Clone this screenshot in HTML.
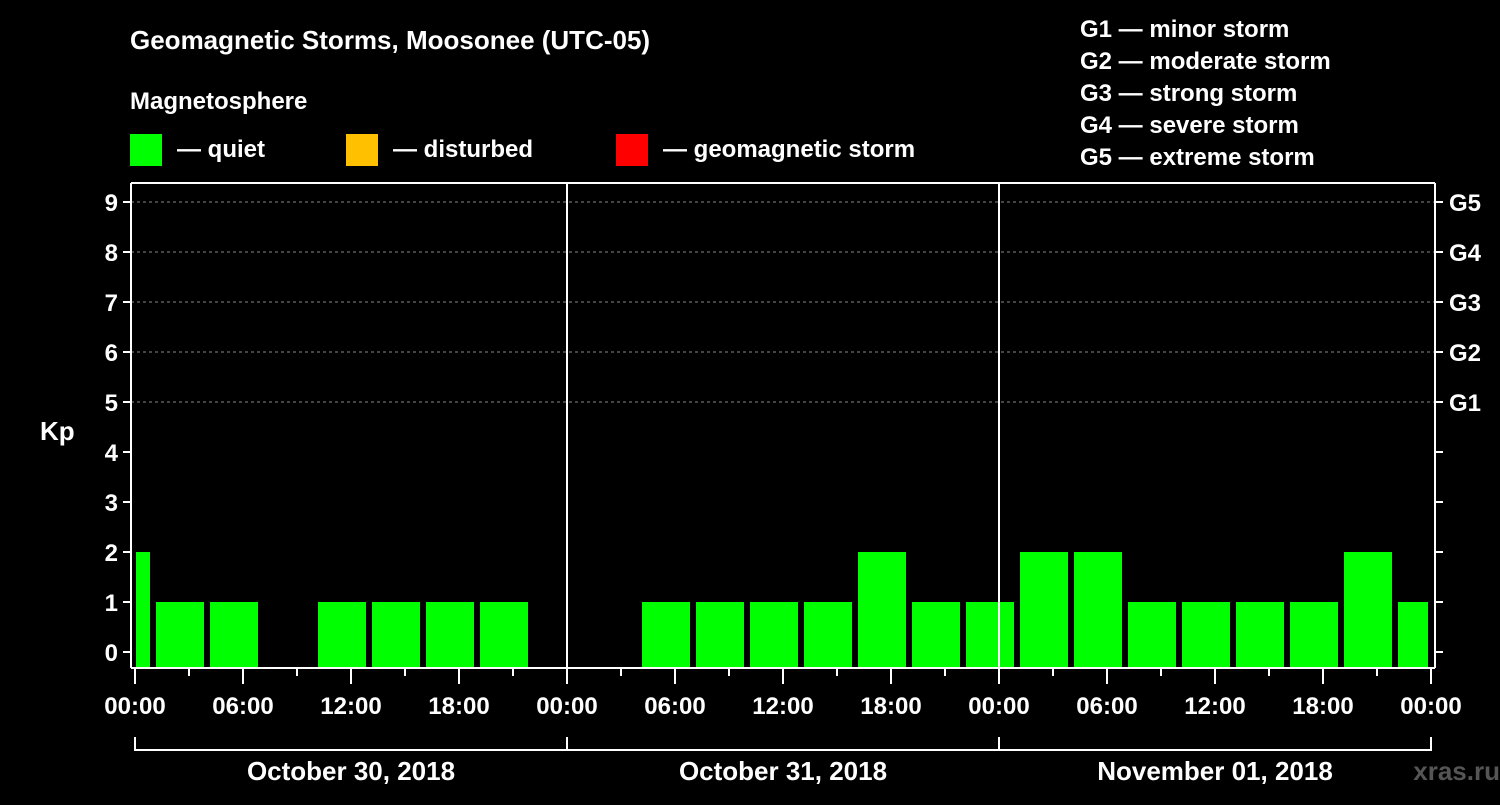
<!DOCTYPE html>
<html><head><meta charset="utf-8"><style>
body{margin:0;background:#000;}
svg text{font-family:"Liberation Sans",sans-serif;font-weight:bold;fill:#fff;}
</style></head><body>
<svg width="1500" height="800">
<rect width="1500" height="800" fill="#000"/>
<text x="130" y="49" font-size="26">Geomagnetic Storms, Moosonee (UTC-05)</text>
<text x="130" y="109" font-size="24">Magnetosphere</text>
<g><rect x="130" y="134" width="32" height="32" fill="#00ff00"/><text x="177" y="157" font-size="24">— quiet</text></g>
<g><rect x="346" y="134" width="32" height="32" fill="#ffc000"/><text x="393" y="157" font-size="24">— disturbed</text></g>
<g><rect x="616" y="134" width="32" height="32" fill="#ff0000"/><text x="663" y="157" font-size="24">— geomagnetic storm</text></g>
<g font-size="24">
<text x="1080" y="37">G1 — minor storm</text>
<text x="1080" y="69">G2 — moderate storm</text>
<text x="1080" y="101">G3 — strong storm</text>
<text x="1080" y="133">G4 — severe storm</text>
<text x="1080" y="165">G5 — extreme storm</text>
</g>
<text x="40" y="440" font-size="26">Kp</text>
<g id="grid"></g><g id="bars"></g><g id="axes"></g>
<text x="1500" y="780" font-size="26" text-anchor="end" fill="#666" style="fill:#555">xras.ru</text>
</svg>
<script>
const kpValues=[2,1,1,0,1,1,1,1,0, 0,1,1,1,1,2,1,1, 2,2,1,1,1,1,2,1];
const slotStartHour=-2;
const yTicks=[0,1,2,3,4,5,6,7,8,9];
const gLabels=["G1","G2","G3","G4","G5"];
const xTickLabels=["00:00","06:00","12:00","18:00","00:00","06:00","12:00","18:00","00:00","06:00","12:00","18:00","00:00"];
const dayLabels=["October 30, 2018","October 31, 2018","November 01, 2018"];
const NS="http://www.w3.org/2000/svg";
const L=131,R=1435,T=183,B=668,X0=135,PXH=18;
const x=h=>X0+h*PXH, y=k=>652-50*k;
function mk(tag,at,parent,txt){const e=document.createElementNS(NS,tag);for(const k in at)e.setAttribute(k,at[k]);if(txt!==undefined)e.textContent=txt;document.getElementById(parent).appendChild(e);return e;}
yTicks.forEach(k=>{
 if(k>=5){const g=mk('line',{x1:L,x2:R,y1:y(k),y2:y(k),stroke:'#888','stroke-dasharray':'3,3'},'grid');
 }
 const t=mk('line',{x1:L-8,x2:L,y1:y(k),y2:y(k),stroke:'#fff','stroke-width':2},'axes');
 
 const r=mk('line',{x1:R,x2:R+8,y1:y(k),y2:y(k),stroke:'#fff','stroke-width':2},'axes');
 
 const l=mk('text',{x:L-13,y:y(k)+9,'font-size':24,'text-anchor':'end'},'axes',String(k));
 
});
gLabels.forEach((g,i)=>{const l=mk('text',{x:1449,y:y(5+i)+9,'font-size':24},'axes',g);
 });
kpValues.forEach((v,i)=>{ if(v<=0)return;
 let a=x(slotStartHour+3*i)+3,b=x(slotStartHour+3*i+3)-3;
 a=Math.max(a,X0+1);b=Math.min(b,x(72)-3);
 const r=mk('rect',{x:a,y:y(v),width:b-a,height:B-y(v),fill:v>=5?'#ff0000':v>=4?'#ffc000':'#00ff00'},'bars');
 
});
[['line',{x1:L,x2:R,y1:T,y2:T}],['line',{x1:L,x2:L,y1:T,y2:B}],['line',{x1:R,x2:R,y1:T,y2:B}],['line',{x1:L,x2:R,y1:B,y2:B}],
 ['line',{x1:x(24),x2:x(24),y1:T,y2:B}],['line',{x1:x(48),x2:x(48),y1:T,y2:B}]].forEach(([t,a])=>{
 a.stroke='#fff';a['stroke-width']=2;const e=mk(t,a,'axes');});
for(let h=0;h<=72;h+=3){const e=mk('line',{x1:x(h),x2:x(h),y1:B,y2:h%6?B+8:B+16,stroke:'#fff','stroke-width':2},'axes');
 }
xTickLabels.forEach((s,i)=>{const e=mk('text',{x:x(i*6),y:714,'font-size':24,'text-anchor':'middle'},'axes',s);
 });
const br=mk('path',{d:`M${x(0)},737V750H${x(72)}V737M${x(24)},737V750M${x(48)},737V750`,stroke:'#fff','stroke-width':2,fill:'none'},'axes');

dayLabels.forEach((s,i)=>{const e=mk('text',{x:x(i*24+12),y:780,'font-size':26,'text-anchor':'middle'},'axes',s);
 });
</script>
</body></html>
